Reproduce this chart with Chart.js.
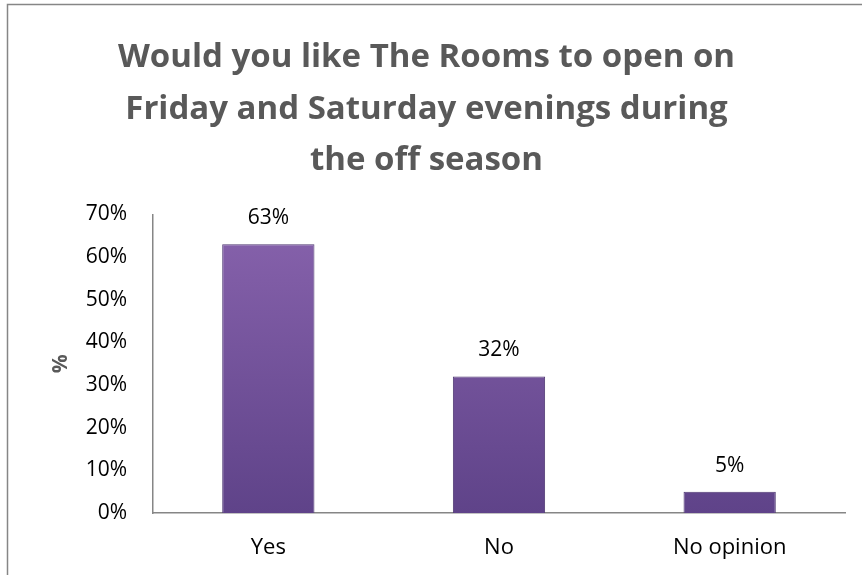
<!DOCTYPE html>
<html>
<head>
<meta charset="utf-8">
<script src="https://cdn.jsdelivr.net/npm/chart.js@4/dist/chart.umd.min.js"></script>
<style>
  html, body { margin: 0; padding: 0; background: #fff; }
  #wrap { width: 862px; height: 575px; position: relative; }
</style>
</head>
<body>
<div id="wrap"><canvas id="roomsChart" width="862" height="575"></canvas></div>
<script>
// data
var categories = ["Yes", "No", "No opinion"];
var answers = [63, 32, 5];
var yTicks = ["0%", "10%", "20%", "30%", "40%", "50%", "60%", "70%"];
var titleLines = ["Would you like The Rooms to open on", "Friday and Saturday evenings during", "the off season"];

var FONT = "'Open Sans', 'Liberation Sans', sans-serif";

// outer frame like the office chart box
var framePlugin = {
  id: 'frame',
  beforeDraw: function(chart) {
    var c = chart.ctx;
    c.save();
    c.strokeStyle = '#868686';
    c.lineWidth = 1.5;
    c.beginPath();
    c.moveTo(7.5, 600);
    c.lineTo(7.5, 4.5);
    c.lineTo(900, 4.5);
    c.stroke();
    c.restore();
  }
};

// value labels above bars
var valueLabels = {
  id: 'valueLabels',
  afterDatasetsDraw: function(chart) {
    var c = chart.ctx;
    var meta = chart.getDatasetMeta(0);
    c.save();
    c.font = '21px ' + FONT;
    c.fillStyle = '#000';
    c.textAlign = 'center';
    c.textBaseline = 'middle';
    meta.data.forEach(function(bar, i) {
      c.fillText(answers[i] + '%', bar.x, bar.y - 26);
    });
    c.restore();
  }
};

function barFill(context) {
  var chart = context.chart;
  var area = chart.chartArea;
  if (!area) return '#7556a0';
  var g = chart.ctx.createLinearGradient(0, area.top, 0, area.bottom);
  g.addColorStop(0, '#8863ad');
  g.addColorStop(1, '#5f4389');
  return g;
}

var ctx = document.getElementById('roomsChart').getContext('2d');
var roomsChart = new Chart(ctx, {
  type: 'bar',
  data: {
    labels: categories,
    datasets: [{
      label: '%',
      data: answers,
      backgroundColor: barFill,
      borderColor: '#4e3772',
      borderWidth: 1,
      categoryPercentage: 1,
      barPercentage: 0.4
    }]
  },
  options: {
    responsive: false,
    animation: false,
    layout: { padding: { left: 8, right: 17, top: 0, bottom: 0 } },
    plugins: {
      legend: { display: false },
      tooltip: { enabled: false },
      title: {
        display: true,
        text: titleLines,
        color: '#595959',
        font: { family: FONT, size: 33, weight: 'bold', lineHeight: 1.56 },
        padding: { top: 32, bottom: 28 }
      }
    },
    scales: {
      x: {
        grid: { display: false, drawTicks: false },
        border: { display: true, color: '#868686', width: 1.5 },
        ticks: { color: '#000', font: { family: FONT, size: 22 }, padding: 22 },
        afterFit: function(scale) { scale.height = 62; }
      },
      y: {
        min: 0,
        max: 70,
        grid: { display: false, drawTicks: false },
        border: { display: true, color: '#868686', width: 1.5 },
        ticks: {
          stepSize: 10,
          color: '#000',
          font: { family: FONT, size: 21 },
          padding: 26,
          callback: function(v) { return yTicks[v / 10]; }
        },
        title: {
          display: true,
          text: '%',
          color: '#595959',
          font: { family: FONT, size: 21, weight: 'bold' },
          padding: { top: 40, bottom: 0 }
        },
        afterFit: function(scale) { scale.width = 145; }
      }
    }
  },
  plugins: [framePlugin, valueLabels]
});
</script>
</body>
</html>
